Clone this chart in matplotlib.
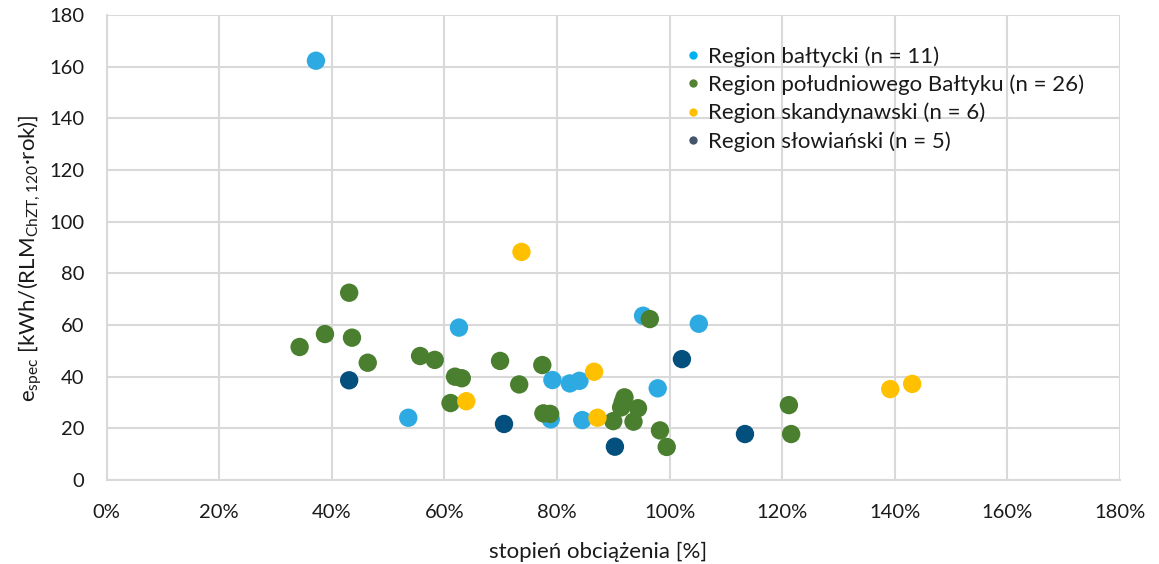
"""Scatter of specific energy vs. load degree for four regions."""

import matplotlib.pyplot as plt
from matplotlib.lines import Line2D
from matplotlib.ticker import FuncFormatter, MultipleLocator

plt.rcParams["font.family"] = ["Lato", "DejaVu Sans"]

# load degree [%] and e_spec values, one pair of lists per region
baltic_x = [37.2, 53.6, 62.6, 95.3, 105.2, 79.2, 82.3, 84.0, 97.9, 84.5, 78.9]
baltic_y = [162.3, 24.1, 59.0, 63.6, 60.5, 38.7, 37.4, 38.4, 35.5, 23.2, 23.5]

south_x = [43.1, 38.8, 43.6, 34.3, 46.4, 55.7, 58.3, 61.9, 63.1, 61.1, 69.9,
           77.4, 73.3, 77.6, 78.8, 96.5, 92.0, 91.4, 91.7, 94.4, 90.0, 93.6,
           98.3, 99.5, 121.2, 121.6]
south_y = [72.5, 56.5, 55.1, 51.5, 45.4, 48.0, 46.5, 40.0, 39.4, 29.8, 46.1,
           44.5, 37.0, 25.8, 25.6, 62.3, 32.0, 28.1, 30.2, 27.8, 22.8, 22.6,
           19.2, 12.8, 29.0, 17.8]

scand_x = [73.7, 63.9, 86.6, 87.2, 139.2, 143.1]
scand_y = [88.3, 30.5, 41.9, 24.1, 35.2, 37.2]

slavic_x = [43.1, 70.6, 90.3, 102.2, 113.4]
slavic_y = [38.6, 21.7, 12.9, 46.8, 17.8]

labels = [
    "Region bałtycki (n = 11)",
    "Region południowego Bałtyku (n = 26)",
    "Region skandynawski (n = 6)",
    "Region słowiański (n = 5)",
]
point_colors = ["#2DAAE1", "#4A7F2F", "#FFC000", "#03507F"]
legend_colors = ["#00B0F0", "#548235", "#FFC000", "#44546A"]

GRID = "#D9D9D9"
TEXT = "#1a1a1a"

fig = plt.figure(figsize=(11.59, 5.64), dpi=100)
ax = fig.add_axes([0.0919, 0.1489, 0.8744, 0.8245])

series = [(baltic_x, baltic_y), (south_x, south_y),
          (scand_x, scand_y), (slavic_x, slavic_y)]
for (xs, ys), color in zip(series, point_colors):
    ax.scatter([v / 100 for v in xs], ys, s=175, color=color,
               edgecolors="none", zorder=3)

ax.set_xlim(0, 1.8)
ax.set_ylim(0, 180)
ax.xaxis.set_major_locator(MultipleLocator(0.2))
ax.yaxis.set_major_locator(MultipleLocator(20))
ax.xaxis.set_major_formatter(FuncFormatter(lambda v, _: f"{v * 100:.0f}%"))

ax.grid(True, color=GRID, linewidth=1.5)
ax.set_axisbelow(True)
for side in ["top", "right"]:
    ax.spines[side].set_visible(False)
for side in ["left", "bottom"]:
    ax.spines[side].set_color(GRID)
    ax.spines[side].set_linewidth(1.5)
ax.tick_params(length=0, labelsize=14.5, colors=TEXT)
ax.tick_params(axis="x", pad=17)
ax.tick_params(axis="y", pad=16)

ax.set_xlabel("stopień obciążenia [%]", fontsize=16, color=TEXT)
ax.xaxis.set_label_coords(0.485, -0.133)
ax.set_ylabel(r"e$_{\mathregular{spec}}$ [kWh/(RLM$_{\mathregular{ChZT,120}}$·rok)]",
              fontsize=16, color=TEXT)
ax.yaxis.set_label_coords(-0.062, 0.477)

handles = [Line2D([], [], marker="o", linestyle="none", markersize=6,
                  markerfacecolor=c, markeredgecolor="none")
           for c in legend_colors]
ax.legend(handles, labels, loc="upper left", bbox_to_anchor=(0.550, 0.976),
          frameon=False, fontsize=16, handletextpad=0.3,
          labelspacing=0.35, handlelength=0.8, labelcolor=TEXT)

fig.savefig("out.png", dpi=100)
